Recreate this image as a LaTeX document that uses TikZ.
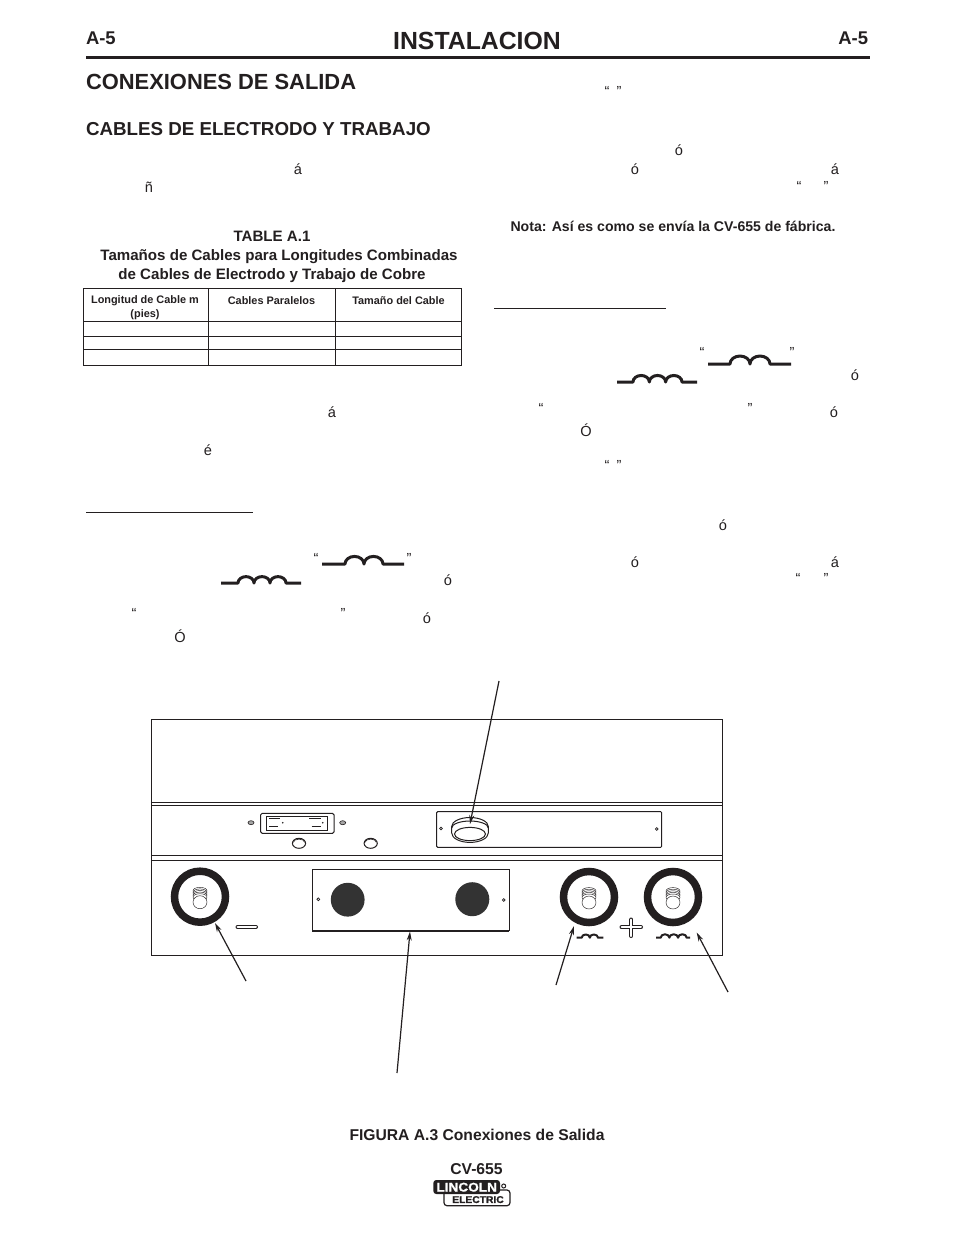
\documentclass[tikz,border=0pt]{standalone}
\usepackage{fontspec}
\setmainfont{Liberation Sans}
\definecolor{ink}{HTML}{231F20}
\newcommand\fsz[1]{\fontsize{#1}{#1}\selectfont}
\newcommand\tb[5]{\node[txt,font=\bfseries\fsz{#4}] (#1) at (#2,#3) {#5};}
\newcommand\tr[4]{\node[txt,font=\fsz{14.6}] (#1) at (#2,#3) {#4};}
\newcommand\coil[7]{% x0,x1,hump start,hump end,y,n,lw; draws base line and n humps
  \pgfmathsetmacro\hr{(#4-#3)/(2*#6)}
  \draw[line width=#7,color=ink,line join=round] (#1,#5) -- (#3,#5)
    \foreach \k in {1,...,#6}{ arc[start angle=180,end angle=360,x radius=\hr,y radius=\hr*0.8] }
    -- (#2,#5);
}
\newcommand\stud[3]{% name, x, y
  \node[terminal] (#1) at (#2,#3) {};
  \begin{scope}[shift={(#2,#3)}]
    \foreach \d in {-6,-4.4,-2.8,-1.2,0.4}{\draw[thr] (0,\d) ellipse[x radius=7,y radius=3.4];}
    \draw[thr,fill=white] (0,5.5) ellipse[x radius=7,y radius=6.5];
  \end{scope}
}
\tikzset{
  txt/.style={inner sep=0pt,outer sep=0pt,text=ink,anchor=center},
  cell/.style={inner sep=0pt,text=ink,font=\bfseries\fsz{10.9},align=center},
  rulel/.style={line width=1pt,color=ink},
  panel/.style={line width=1pt,color=ink},
  terminal/.style={circle,draw=ink,line width=7.5pt,minimum size=51pt,inner sep=0pt,outer sep=0pt},
  thr/.style={line width=0.45pt,color=ink,fill=white},
  callout/.style={line width=1.2pt,color=ink,-{Stealth[length=9pt,width=5pt]}},
  scr/.style={draw=ink,line width=0.7pt,fill=white},
}
\usetikzlibrary{arrows.meta}
\begin{document}
\begin{tikzpicture}[x=1pt,y=-1pt]
\useasboundingbox (0,0) rectangle (954,1235);
\fill[white] (0,0) rectangle (954,1235);
% header
\tb{title}{477}{41}{24.8}{INSTALACION}
\node[txt,anchor=west,font=\bfseries\fsz{18.4}] (aL) at (86,38) {A-5};
\node[txt,anchor=east,font=\bfseries\fsz{18.4}] (aR) at (868,38) {A-5};
\draw[line width=3pt,color=ink] (86,57) -- (869.5,57);
\node[txt,anchor=west,font=\bfseries\fsz{21.9}] (h1) at (86,82) {CONEXIONES DE SALIDA};
\node[txt,anchor=west,font=\bfseries\fsz{18.75}] (h2) at (86,129) {CABLES DE ELECTRODO Y TRABAJO};
% table caption
\tb{c1}{272}{236}{15.1}{TABLE A.1}
\tb{c2}{279}{256.5}{15.1}{Tamaños de Cables para Longitudes Combinadas}
\tb{c3}{272}{275.5}{15.1}{de Cables de Electrodo y Trabajo de Cobre}
% table
\draw[panel] (83.5,288.5) rectangle (461.7,365.3);
\foreach \yy in {321.7,336.3,349.3}{\draw[panel] (83.5,\yy) -- (461.7,\yy);}
\foreach \xx in {208.3,335}{\draw[panel] (\xx,288.5) -- (\xx,365.3);}
\node[cell] (th1) at (145,308) {Longitud de Cable m\\[2.8pt](pies)};
\node[cell] (th2) at (271.5,300.5) {Cables Paralelos};
\node[cell] (th3) at (398.5,300.5) {Tamaño del Cable};
\tb{nota}{673}{226}{14.1}{Nota: Así es como se envía la CV-655 de fábrica.}
% left column stray glyphs
\tr{a1}{298}{169}{á}
\tr{a2}{149}{187}{ñ}
\tr{a3}{332}{412}{á}
\tr{a4}{208}{450}{é}
\tr{a5}{316}{558}{“}
\tr{a6}{409}{558}{”}
\tr{a7}{448}{580}{ó}
\tr{a8}{134}{613}{“}
\tr{a9}{343}{613}{”}
\tr{a10}{427}{618}{ó}
\tr{a11}{180}{636}{Ó}
\draw[rulel] (86,512) -- (253,512);
\draw[rulel] (494,308) -- (666,308);
% right column stray glyphs
\tr{b1}{607}{91}{“}
\tr{b2}{619}{91}{”}
\tr{b3}{679}{150}{ó}
\tr{b4}{635}{169}{ó}
\tr{b5}{835}{169}{á}
\tr{b6}{799}{186}{“}
\tr{b7}{826}{186}{”}
\tr{b8}{702}{352}{“}
\tr{b9}{792}{352}{”}
\tr{b10}{855}{375}{ó}
\tr{b11}{541}{408}{“}
\tr{b12}{750}{408}{”}
\tr{b13}{834}{412}{ó}
\tr{b14}{586}{430}{Ó}
\tr{b15}{607}{465}{“}
\tr{b16}{619}{465}{”}
\tr{b17}{723}{525}{ó}
\tr{b18}{635}{562}{ó}
\tr{b19}{835}{562}{á}
\tr{b20}{798}{578}{“}
\tr{b21}{826}{578}{”}
% inductor symbols in the text
\coil{322}{404}{345}{383}{564}{2}{3pt}
\coil{221}{301}{238}{286}{583}{3}{3pt}
\coil{708}{791}{730}{770}{364}{2}{3pt}
\coil{617}{697}{633}{682}{382}{3}{3pt}
% panel
\draw[panel] (151.7,719.5) rectangle (722.3,955.3);
\foreach \yy in {802.7,805.3,855.3,860.3}{\draw[panel] (151.7,\yy) -- (722.3,\yy);}
% meter
\draw[panel,rounded corners=1.5pt] (260.7,813.3) rectangle (334,833.3);
\draw[panel] (266.7,816) rectangle (327.3,830.7);
\draw[line width=0.6pt,color=ink] (269.3,818.7) -- (280,818.7) (269.3,826) -- (278,826) (311.7,826) -- (321,826);
\draw[line width=1.2pt,color=ink] (309.3,818.7) -- (321,818.7);
\fill[ink] (282.7,822.7) circle[radius=0.9] (322.7,822.7) circle[radius=0.9];
\draw[line width=0.6pt,draw=ink,fill=gray!70] (251,822.7) ellipse[x radius=3,y radius=2];
\draw[line width=0.6pt,draw=ink,fill=gray!70] (342.7,822.7) ellipse[x radius=3,y radius=2];
\foreach \xx in {299,370.7}{
  \draw[panel] (\xx,843.3) ellipse[x radius=6.6,y radius=5];
  \draw[line width=0.6pt,color=ink] (\xx-5.6,842.3) arc[start angle=180,end angle=360,x radius=5.6,y radius=3.2];
}
% right upper plate and cap
\draw[panel,rounded corners=1pt] (436.7,811.7) rectangle (661.7,847.3);
\draw[scr] (441,828.5) circle[radius=1.4];
\draw[scr] (656.7,829) circle[radius=1.4];
\draw[panel,fill=white] (451.7,833) -- (451.7,826.5) arc[start angle=180,end angle=360,x radius=18.3,y radius=9] -- (488.3,833) arc[start angle=0,end angle=180,x radius=18.3,y radius=9.4];
\draw[panel] (451.7,828) arc[start angle=180,end angle=360,x radius=18.3,y radius=7];
\draw[panel] (470,834) ellipse[x radius=15.5,y radius=6.6];
% centre plate
\draw[panel] (312.3,869.3) -- (509.3,869.3) -- (509.3,930.7);
\draw[panel] (312.3,869.3) -- (312.3,930.7);
\draw[line width=1.8pt,color=ink] (312.3,930.7) -- (509.3,930.7);
\fill[black!80] (347.7,899.7) circle[radius=16.9];
\fill[black!80] (472.3,899.2) circle[radius=17];
\draw[scr] (318.3,899.3) circle[radius=1.4];
\draw[scr] (503.7,900) circle[radius=1.4];
% studs
\stud{tA}{200}{896.7}
\stud{tB}{589}{897}
\stud{tC}{673}{897}
% minus and plus
\draw[line width=4pt,color=ink,line cap=round] (237.5,927) -- (256,927);
\draw[line width=2pt,color=white,line cap=round] (237.5,927) -- (256,927);
\draw[line width=4pt,color=ink,line cap=round] (621.5,927.3) -- (641,927.3) (631.3,919.5) -- (631.3,936);
\draw[line width=2pt,color=white,line cap=round] (621.5,927.3) -- (641,927.3) (631.3,919.5) -- (631.3,936);
% panel coils
\coil{576.7}{603.3}{581.7}{598}{937.7}{2}{2pt}
\coil{656}{690}{660.7}{686.7}{937.7}{3}{2pt}
% callouts
\coordinate (p1) at (499,681); \coordinate (q1) at (470,824);
\coordinate (p2) at (246,981); \coordinate (q2) at (215,923);
\coordinate (p3) at (397,1073); \coordinate (q3) at (410,931.5);
\coordinate (p4) at (556,985); \coordinate (q4) at (574,926);
\coordinate (p5) at (728,992); \coordinate (q5) at (696.7,932.5);
\foreach \i in {1,...,5}{\draw[callout] (p\i) -- (q\i);}
% footer
\tb{fig}{477}{1135}{15.66}{FIGURA A.3 Conexiones de Salida}
\tb{cv}{476.5}{1169}{15.7}{CV-655}
% logo
\draw[line width=1.2pt,draw=ink,fill=white,rounded corners=3pt] (444,1190) rectangle (510,1205.7);
\node[txt,font=\bfseries\fsz{9.8}] (le) at (478,1199.6) {\addfontfeature{FakeStretch=1.05,FakeBold=1.5}ELECTRIC};
\fill[ink,rounded corners=3pt] (433.3,1180) rectangle (500,1194);
\node[txt,font=\bfseries\fsz{12.6},text=white] (ll) at (466.7,1187.2) {\addfontfeature{FakeStretch=1.08,FakeBold=1}LINCOLN};
\draw[line width=1pt,draw=ink,fill=white] (503.7,1186) circle[radius=2];
\end{tikzpicture}
\end{document}
